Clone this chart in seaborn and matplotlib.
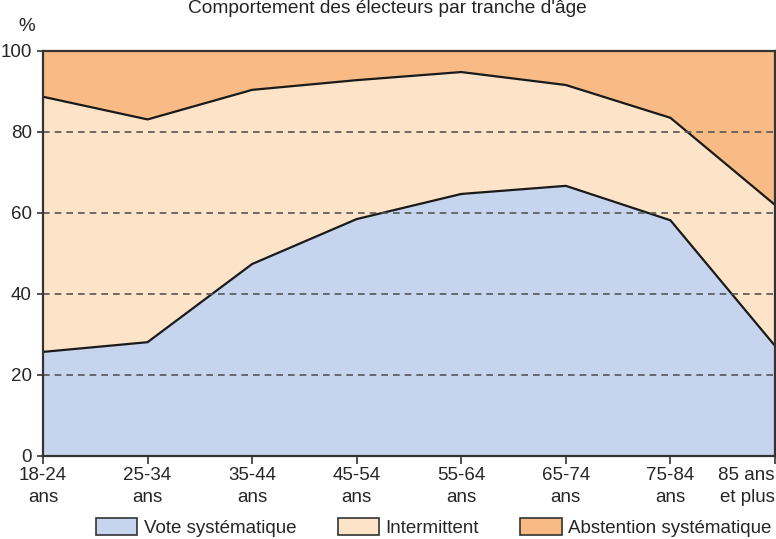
import numpy as np
import pandas as pd
import matplotlib
matplotlib.use("Agg")
import matplotlib.pyplot as plt
from matplotlib.patches import Patch
import seaborn as sns

# data
tranches = ["18-24\nans", "25-34\nans", "35-44\nans", "45-54\nans",
            "55-64\nans", "65-74\nans", "75-84\nans", "85 ans\net plus"]
vote_systematique = [25.7, 28.1, 47.4, 58.5, 64.7, 66.7, 58.2, 27.2]
intermittent = [63.0, 55.0, 43.0, 34.3, 30.1, 24.9, 25.3, 34.8]
abstention = [11.3, 16.9, 9.6, 7.2, 5.2, 8.4, 16.5, 38.0]
series_names = ["Vote systématique", "Intermittent", "Abstention systématique"]
colors = ["#c6d4ee", "#fde3c8", "#f9bb85"]

sns.set_theme(style="white")
plt.rcParams["font.family"] = ["Liberation Sans", "DejaVu Sans"]

df = pd.DataFrame({"x": np.arange(len(tranches)),
                   "vote": vote_systematique,
                   "inter": intermittent,
                   "abst": abstention})
df["haut"] = df["vote"] + df["inter"]

fig = plt.figure(figsize=(7.76, 5.39), dpi=100)
ax = fig.add_axes([0.0554, 0.154, 0.9433, 0.7514])

ax.stackplot(df["x"], df["vote"], df["inter"], df["abst"], colors=colors, linewidth=0)

# boundary lines
sns.lineplot(data=df, x="x", y="vote", color="#1a1a1a", linewidth=1.6, ax=ax)
sns.lineplot(data=df, x="x", y="haut", color="#1a1a1a", linewidth=1.6, ax=ax)

for yv in [20, 40, 60, 80]:
    ax.axhline(yv, color="#555555", linestyle=(0, (4, 3)), linewidth=1.2, zorder=5)

ax.set_xlim(0, len(tranches) - 1)
ax.set_ylim(0, 100)
ax.set_xticks(df["x"])
ax.set_xticklabels(tranches, fontsize=13.5, linespacing=1.4)
labels = ax.get_xticklabels()
labels[-1].set_horizontalalignment("right")
ax.set_yticks([0, 20, 40, 60, 80, 100])
ax.set_yticklabels(["0", "20", "40", "60", "80", "100"], fontsize=13.5)
ax.tick_params(axis="x", direction="out", length=6, width=1.2, color="#333333", pad=2, bottom=True)
ax.tick_params(axis="y", direction="out", length=4, width=1.2, color="#333333", pad=4, left=True)
ax.set_xlabel("")
ax.set_ylabel("")
for sp in ax.spines.values():
    sp.set_visible(True)
    sp.set_color("#333333")
    sp.set_linewidth(1.6)
    sp.set_zorder(10)

fig.text(0.499, 0.985, "Comportement des électeurs par tranche d'âge",
         ha="center", va="center", fontsize=13.8, color="#222222")
fig.text(0.035, 0.95, "%", ha="center", va="center", fontsize=13.5, color="#222222")

handles = [Patch(facecolor=c, edgecolor="#333333", linewidth=1.2) for c in colors]
fig.legend(handles, series_names, loc="center", bbox_to_anchor=(0.559, 0.022), ncol=3,
           frameon=False, fontsize=13.5, handlelength=2.2, handleheight=1.05,
           handletextpad=0.35, columnspacing=2.2, borderaxespad=0)

fig.savefig("out.png", dpi=100)
